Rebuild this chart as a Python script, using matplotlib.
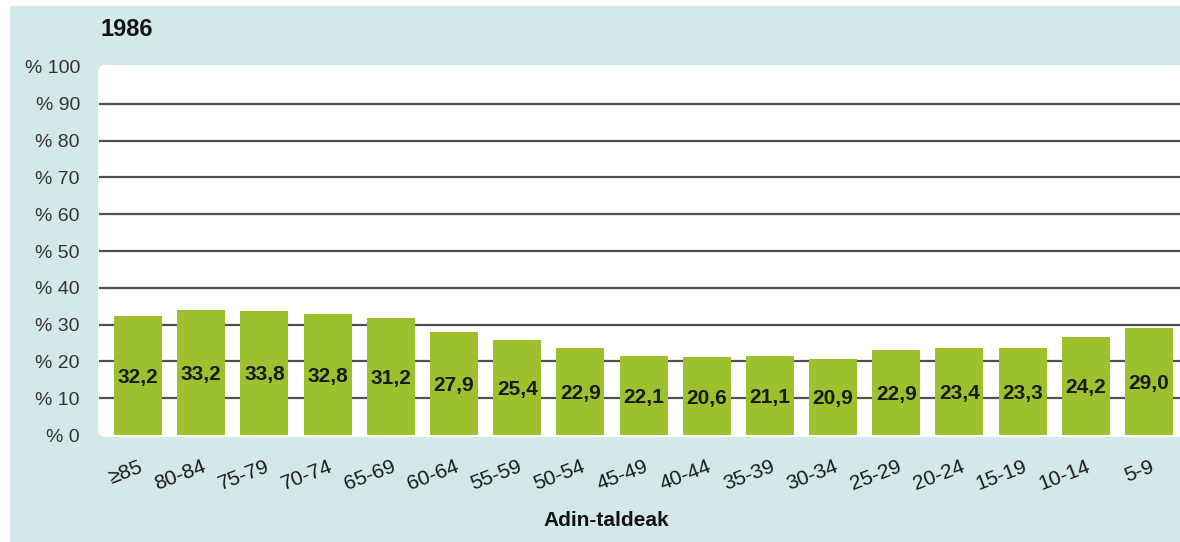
import matplotlib
matplotlib.use("Agg")
import matplotlib.pyplot as plt
from matplotlib.patches import FancyBboxPatch, Rectangle
from matplotlib.transforms import ScaledTranslation

# ---- data ----
categories = ["≥85", "80-84", "75-79", "70-74", "65-69", "60-64", "55-59", "50-54",
              "45-49", "40-44", "35-39", "30-34", "25-29", "20-24", "15-19", "10-14", "5-9"]
bar_heights = [32.4, 34.0, 33.8, 32.9, 31.8, 28.1, 25.7, 23.6,
               21.5, 21.1, 21.5, 20.7, 23.2, 23.6, 23.6, 26.6, 29.1]
value_labels = ["32,2", "33,2", "33,8", "32,8", "31,2", "27,9", "25,4", "22,9",
                "22,1", "20,6", "21,1", "20,9", "22,9", "23,4", "23,3", "24,2", "29,0"]
y_ticks = [0, 10, 20, 30, 40, 50, 60, 70, 80, 90, 100]
y_tick_labels = ["% " + str(v) for v in y_ticks]
title = "1986"
x_title = "Adin-taldeak"

BG = "#d2e8e9"
GREEN = "#9dc12d"
GRID = "#505050"
TXT = "#1a1a1a"

plt.rcParams['font.family'] = ['Liberation Sans', 'DejaVu Sans']

W, H = 1180, 542
fig = plt.figure(figsize=(W / 100, H / 100), dpi=100)
fig.patch.set_facecolor("white")
# light blue panel
fig.patches.append(Rectangle((10 / W, 0), 1 - 10 / W, 1 - 6 / H, transform=fig.transFigure,
                             facecolor=BG, edgecolor="none", zorder=-2))

ax_left, ax_bottom, ax_top = 98, 437, 65
ax = fig.add_axes([ax_left / W, 1 - ax_bottom / H, 1 - ax_left / W, (ax_bottom - ax_top) / H])
ax.patch.set_visible(False)
# white plot area with rounded corners
fig.patches.append(FancyBboxPatch((ax_left / 100, (H - ax_bottom) / 100),
                                  (W - ax_left) / 100 + 0.2, (ax_bottom - ax_top) / 100,
                                  boxstyle="round,pad=0,rounding_size=0.08",
                                  transform=fig.dpi_scale_trans,
                                  facecolor="white", edgecolor="none", zorder=-1))

x = list(range(len(categories)))
ax.set_xlim(-0.633, 16.49)
ax.set_ylim(-0.54, 100.54)

for v in y_ticks[1:-1]:
    ax.axhline(v, xmin=0.002, xmax=1, color=GRID, lw=1.6, zorder=1)

ax.bar(x, bar_heights, width=0.76, color=GREEN, zorder=2)

for xi, h, lab in zip(x, bar_heights, value_labels):
    ax.text(xi, h / 2 - 0.5, lab, ha="center", va="center", fontsize=15,
            fontweight="bold", color=TXT, zorder=3)

for s in ax.spines.values():
    s.set_visible(False)

ax.set_yticks(y_ticks)
ax.set_yticklabels(y_tick_labels, fontsize=14, color="#333333")
ax.tick_params(axis="y", length=0, pad=13)
ax.set_xticks([])

off = ScaledTranslation(4 / 100, -31 / 100, fig.dpi_scale_trans)
for xi, cat in zip(x, categories):
    ax.text(xi, 0, cat, transform=ax.transData + off, rotation=21,
            rotation_mode="anchor", ha="right", va="center", fontsize=15,
            color=TXT, clip_on=False)

fig.text(100 / W, 1 - 29 / H, title, ha="left", va="center", fontsize=17,
         fontweight="bold", color="#111111")
fig.text(606 / W, 1 - 521 / H, x_title, ha="center", va="center", fontsize=15,
         fontweight="bold", color="#111111")

fig.savefig("out.png", dpi=100, facecolor=fig.get_facecolor())
